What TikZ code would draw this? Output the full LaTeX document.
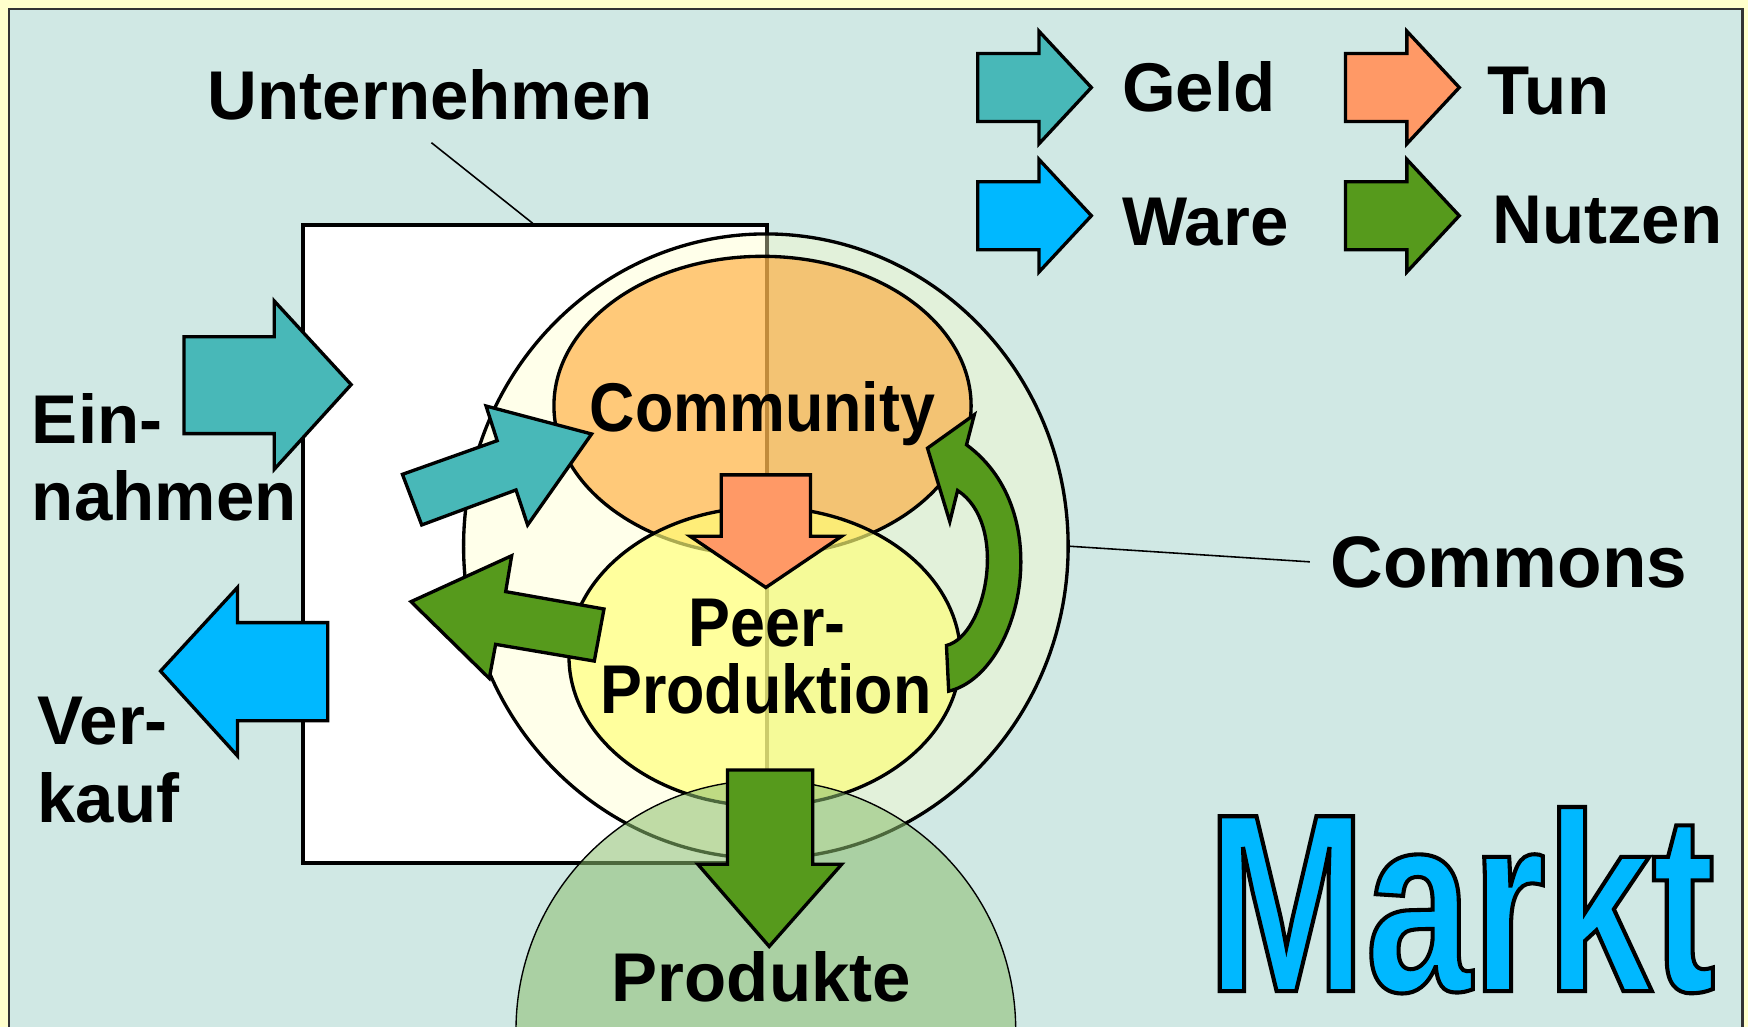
\documentclass[tikz,border=0pt]{standalone}
\usepackage{fontspec}
\setmainfont{Liberation Sans}
\newfontfamily\marktfont[FakeBold=1.6,FakeStretch=0.75]{Liberation Sans Bold}
\usetikzlibrary{shapes.geometric,calc}
\definecolor{bgyellow}{HTML}{FFFFCC}
\definecolor{panel}{HTML}{D0E8E4}
\definecolor{panelline}{HTML}{333333}
\definecolor{geld}{HTML}{48B8B8}
\definecolor{ware}{HTML}{00B8FF}
\definecolor{tun}{HTML}{FF9966}
\definecolor{nutzen}{HTML}{569A1C}
\definecolor{commfill}{HTML}{FFA52F}
\definecolor{peerfill}{HTML}{FFFF78}
\definecolor{prodfill}{HTML}{8CBE6E}
\definecolor{markt}{HTML}{00B8FF}
\begin{document}
\begin{tikzpicture}[x=0.01cm,y=-0.01cm,
  outl/.style={draw=black,line width=0.85pt},
  blk/.style={outl,line join=miter},
  leader/.style={draw=black,line width=0.4pt},
  lbl/.style={inner sep=0pt,font=\fontsize{17.6pt}{21pt}\selectfont\bfseries},
  legarrow/.pic={\filldraw[blk] (0,0) -- (55,0) -- (55,-20) -- (102,30.5) -- (55,81) -- (55,61) -- (0,61) -- cycle;}]
\useasboundingbox (0,0) rectangle (1568,921);
\fill[bgyellow] (0,0) rectangle (1568,921);
\filldraw[fill=panel,draw=panelline,line width=0.7pt] (8,8) rectangle (1563,950);

% shapes
\node[outl,fill=white,minimum width=4.16cm,minimum height=5.72cm,inner sep=0pt] (firm) at (480,488) {};
\node[ellipse,outl,fill=bgyellow,fill opacity=0.4,minimum width=5.42cm,minimum height=5.6cm,inner sep=0pt] (commons) at (687,490) {};
\node[ellipse,outl,fill=commfill,fill opacity=0.6,minimum width=3.74cm,minimum height=2.68cm,inner sep=0pt] (community) at (684,364) {};
\node[ellipse,outl,fill=peerfill,fill opacity=0.67,minimum width=3.51cm,minimum height=2.68cm,inner sep=0pt] (peer) at (686,589) {};
\node[circle,draw=black,line width=0.35pt,fill=prodfill,fill opacity=0.55,minimum size=4.48cm,inner sep=0pt] (prod) at (687,924) {};

% leader lines
\coordinate (unL) at (387,128);
\draw[leader] (unL) -- ($(firm.north west)!0.495!(firm.north east)$);
\coordinate (cmL) at (1175,504);
\draw[leader] (commons.east) -- (cmL);

% block arrows
\filldraw[blk,fill=geld] (165,302) -- (246,302) -- (246,270) -- (315,345) -- (246,421) -- (246,389) -- (165,389) -- cycle;
\filldraw[blk,fill=geld] (361,425.5) -- (446,395.3) -- (436,364.2) -- (530.7,389.3) -- (473.3,470.9) -- (462.9,439.5) -- (378.3,470.9) -- cycle;
\filldraw[blk,fill=nutzen] (368.7,539.7) -- (459,498.5) -- (453.6,530.7) -- (541.8,546.3) -- (533.1,593) -- (444.6,578) -- (438.9,608.5) -- cycle;
\filldraw[blk,fill=ware] (144,602) -- (213,527) -- (213,558.5) -- (294,558.5) -- (294,646.5) -- (213,646.5) -- (213,678) -- cycle;
\filldraw[blk,fill=tun] (647,426) -- (727,426) -- (727,481) -- (755,481) -- (687,527) -- (619,481) -- (647,481) -- cycle;
\filldraw[blk,fill=nutzen] (652.6,690.7) -- (729,690.7) -- (729,775.3) -- (755,775.3) -- (690,849) -- (626,775.3) -- (652.6,775.3) -- cycle;
\filldraw[blk,fill=nutzen] (874,372) -- (832,402) -- (852,468) -- (859,440) .. controls (905,470) and (885,570) .. (849,579) -- (851,620) .. controls (915,605) and (950,460) .. (867,399) -- cycle;

% legend
\pic[fill=geld] at (877,48) {legarrow};
\pic[fill=ware] at (877,163) {legarrow};
\pic[fill=tun] at (1207,48) {legarrow};
\pic[fill=nutzen] at (1207,163) {legarrow};
\node[lbl,anchor=base west] (lgeld) at (1006,100) {Geld};
\node[lbl,anchor=base west] (lware) at (1006,220) {Ware};
\node[lbl,anchor=base west] (ltun) at (1334,103) {Tun};
\node[lbl,anchor=base west] (lnutzen) at (1338,218) {Nutzen};

% labels
\node[lbl,anchor=base] (tunter) at (386,107) {Unternehmen};
\node[lbl,anchor=base west] (tein) at (28,398) {Ein-};
\node[lbl,anchor=base west] (tnahmen) at (28,467) {nahmen};
\node[lbl,anchor=base west] (tver) at (33,668) {Ver-};
\node[lbl,anchor=base west] (tkauf) at (33,738) {kauf};
\node[lbl,anchor=base] (tcomm) at (684,387) {\scalebox{0.91}[1]{Community}};
\node[lbl,anchor=base] (tpeer) at (688,580) {\scalebox{0.91}[1]{Peer-}};
\node[lbl,anchor=base] (tprodn) at (687,640) {\scalebox{0.91}[1]{Produktion}};
\node[lbl,anchor=base west,font=\fontsize{18.6pt}{22pt}\selectfont\bfseries] (tcommons) at (1193,527) {Commons};
\node[lbl,anchor=base] (tprod) at (683,898) {Produkte};
\node[anchor=base west,inner sep=0pt,text=markt,font=\marktfont\fontsize{64.8pt}{70pt}\selectfont] (markt) at (1082,889) {\special{pdf:code 0 0 0 RG}Markt};
\end{tikzpicture}
\end{document}
